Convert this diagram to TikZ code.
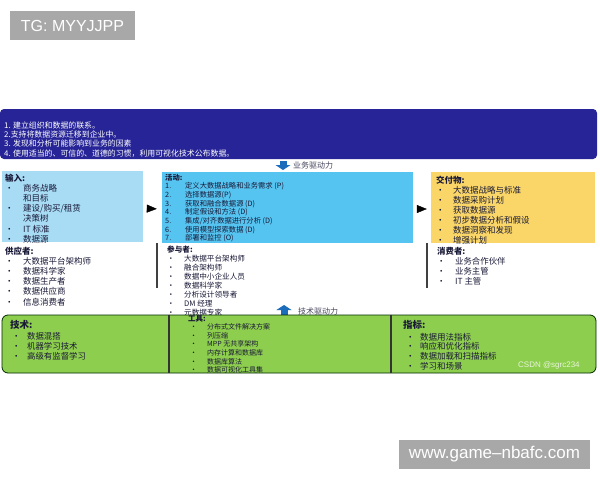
\documentclass[tikz,border=0pt]{standalone}
\usepackage{fontspec}
\setmainfont{Noto Sans CJK SC}
\newfontfamily\latinfont{Liberation Sans}
\usetikzlibrary{positioning,arrows.meta}

\definecolor{navy}{RGB}{38,36,150}
\definecolor{inblue}{RGB}{168,220,245}
\definecolor{actblue}{RGB}{86,196,240}
\definecolor{delyellow}{RGB}{250,214,104}
\definecolor{techgreen}{RGB}{142,206,78}
\definecolor{arrowblue}{RGB}{28,108,188}
\definecolor{taggray}{RGB}{168,168,168}
\definecolor{ink}{RGB}{25,25,55}

\begin{document}
\begin{tikzpicture}[x=1pt, y=-1pt,
        box/.style={inner sep=0pt, minimum height=71pt},
        lst/.style={anchor=north west, inner sep=0pt, text=ink},
        hdr/.style={anchor=west, inner sep=0pt, text=ink, font=\bfseries\fontsize{9.5}{10}\selectfont},
        flow/.style={-{Triangle[length=10pt,width=8pt]}, black},
        drive/.style={line width=7pt, draw=arrowblue, -{Triangle[length=5pt,width=15pt]}},
        drivetext/.style={anchor=west, inner sep=0pt, text=ink!80, font=\fontsize{8}{9}\selectfont},
        divider/.style={draw=black!75, line width=1.5pt},
        tag/.style={fill=taggray, text=white, inner sep=0pt, font=\latinfont\fontsize{16}{18}\selectfont}
    ]
    \useasboundingbox[fill=white] (0,0) rectangle (600,480);

    % Etichette grigie
    \node[tag, minimum width=125pt, minimum height=29pt] (tg) at (72.5,25.5) {TG: MYYJJPP};
    \node[tag, minimum width=191pt, minimum height=29pt, font=\latinfont\fontsize{17}{18}\selectfont] (web) at (494.5,454.5) {www.game–nbafc.com};

    % Banner obiettivi
    \node[fill=navy, rounded corners=4pt, minimum width=597pt, minimum height=50pt, inner sep=0pt] (goals) at (298.5,134) {};
    \node[lst, text=white, font=\fontsize{7.9}{9}\selectfont] (goaltext) at (4,121.3) {\begin{tabular}{@{}l@{}}
        1. 建立组织和数据的联系。\\
        2.支持将数据资源迁移到企业中。\\
        3. 发现和分析可能影响到业务的因素\\
        4. 使用适当的、可信的、道德的习惯，利用可视化技术公布数据。
    \end{tabular}};

    % Freccia business
    \coordinate (bzt) at (283,161);
    \coordinate (bzb) at (283,170);
    \draw[drive] (bzt) -- (bzb);
    \node[drivetext] (biztext) at (293,165.5) {业务驱动力};

    % Tre riquadri
    \node[box, fill=inblue, minimum width=141pt] (input) at (72.5,206.5) {};
    \node[box, fill=actblue, minimum width=251pt] (act) at (287.5,207) {};
    \node[box, fill=delyellow, minimum width=164pt] (deliv) at (513,207) {};

    \draw[flow, shorten <=4pt, shorten >=5pt] ([yshift=-2pt]input.east) -- ([yshift=-2pt]act.west);
    \draw[flow, shorten <=5pt, shorten >=4pt] ([yshift=-2pt]act.east) -- ([yshift=-2pt]deliv.west);

    % Input
    \node[lst, font=\fontsize{8.5}{9.6}\selectfont] (inlist) at (5,174.3) {\begin{tabular}{@{}p{18pt}@{}l@{}}
        \multicolumn{2}{@{}l@{}}{\textbf{输入:}}\\
        \textbullet & 商务战略\\
                    & 和目标\\
        \textbullet & 建设/购买/租赁\\
                    & 决策树\\
        \textbullet & IT 标准\\
        \textbullet & 数据源
    \end{tabular}};

    % Attivita
    \node[lst, font=\fontsize{7.3}{8.3}\selectfont] (actlist) at (165,173.8) {\begin{tabular}{@{}p{20pt}@{}l@{}}
        \multicolumn{2}{@{}l@{}}{\textbf{活动:}}\\
        1. & 定义大数据战略和业务需求 (P)\\
        2. & 选择数据源(P)\\
        3. & 获取和融合数据源 (D)\\
        4. & 制定假设和方法 (D)\\
        5. & 集成/对齐数据进行分析 (D)\\
        6. & 使用模型探索数据 (D)\\
        7. & 部署和监控 (O)
    \end{tabular}};

    % Consegne
    \node[lst, font=\fontsize{8.5}{9.5}\selectfont] (dellist) at (436,176.2) {\begin{tabular}{@{}p{17pt}@{}l@{}}
        \multicolumn{2}{@{}l@{}}{\textbf{交付物:}}\\
        \textbullet & 大数据战略与标准\\
        \textbullet & 数据采购计划\\
        \textbullet & 获取数据源\\
        \textbullet & 初步数据分析和假设\\
        \textbullet & 数据洞察和发现\\
        \textbullet & 增强计划
    \end{tabular}};

    % Fornitori, partecipanti, consumatori
    \node[lst, font=\fontsize{8.5}{10.1}\selectfont] (suplist) at (5,246.5) {\begin{tabular}{@{}p{18pt}@{}l@{}}
        \multicolumn{2}{@{}l@{}}{\textbf{供应者:}}\\
        \textbullet & 大数据平台架构师\\
        \textbullet & 数据科学家\\
        \textbullet & 数据生产者\\
        \textbullet & 数据供应商\\
        \textbullet & 信息消费者
    \end{tabular}};

    \node[lst, font=\fontsize{7.6}{8.7}\selectfont] (partlist) at (167,245.6) {\begin{tabular}{@{}p{17pt}@{}l@{}}
        \multicolumn{2}{@{}l@{}}{\textbf{参与者:}}\\
        \textbullet & 大数据平台架构师\\
        \textbullet & 融合架构师\\
        \textbullet & 数据中小企业人员\\
        \textbullet & 数据科学家\\
        \textbullet & 分析设计领导者\\
        \textbullet & DM 经理\\
        \textbullet & 元数据专家
    \end{tabular}};

    \node[lst, font=\fontsize{8.4}{9.7}\selectfont] (conslist) at (437,247.2) {\begin{tabular}{@{}p{18pt}@{}l@{}}
        \multicolumn{2}{@{}l@{}}{\textbf{消费者:}}\\
        \textbullet & 业务合作伙伴\\
        \textbullet & 业务主管\\
        \textbullet & IT 主管
    \end{tabular}};

    \draw[divider] (157,243) -- (157,288);
    \draw[divider] (427,243) -- (427,288);

    % Freccia tecnologia
    \coordinate (tkb) at (284,317);
    \coordinate (tkt) at (284,305);
    \draw[drive] (tkb) -- (tkt);
    \node[drivetext] (techtext) at (298,311) {技术驱动力};

    % Fascia verde
    \node[fill=techgreen, draw=black!60!green!40!black, line width=0.8pt, rounded corners=6pt,
          minimum width=594pt, minimum height=58pt, inner sep=0pt] (green) at (299,344) {};
    \draw[line width=1.2pt, black!80] (169,0 |- green.north) -- (169,0 |- green.south);
    \draw[line width=1.2pt, black!80] (391,0 |- green.north) -- (391,0 |- green.south);

    \node[hdr] (techhdr) at (10,325) {技术:};
    \node[lst, font=\fontsize{8.4}{9.2}\selectfont] (techlist) at (12,332.5) {\begin{tabular}{@{}p{15pt}@{}l@{}}
        \textbullet & 数据混搭\\
        \textbullet & 机器学习技术\\
        \textbullet & 高级有监督学习
    \end{tabular}};

    \node[hdr, font=\bfseries\fontsize{7.5}{8}\selectfont] (toolhdr) at (188,319) {工具:};
    \node[lst, font=\fontsize{7}{8.6}\selectfont] (toollist) at (190,323.4) {\begin{tabular}{@{}p{17pt}@{}l@{}}
        \textbullet & 分布式文件解决方案\\
        \textbullet & 列压缩\\
        \textbullet & MPP 无共享架构\\
        \textbullet & 内存计算和数据库\\
        \textbullet & 数据库算法\\
        \textbullet & 数据可视化工具集
    \end{tabular}};

    \node[hdr] (methdr) at (403,325) {指标:};
    \node[lst, font=\fontsize{8.5}{9}\selectfont] (metlist) at (406,332.7) {\begin{tabular}{@{}p{14pt}@{}l@{}}
        \textbullet & 数据用法指标\\
        \textbullet & 响应和优化指标\\
        \textbullet & 数据加载和扫描指标\\
        \textbullet & 学习和场景
    \end{tabular}};

    % Filigrana
    \node[anchor=west, inner sep=0pt, text=white!80!techgreen, font=\latinfont\fontsize{8}{9}\selectfont] (mark) at (518,365) {CSDN @sgrc234};
\end{tikzpicture}
\end{document}
